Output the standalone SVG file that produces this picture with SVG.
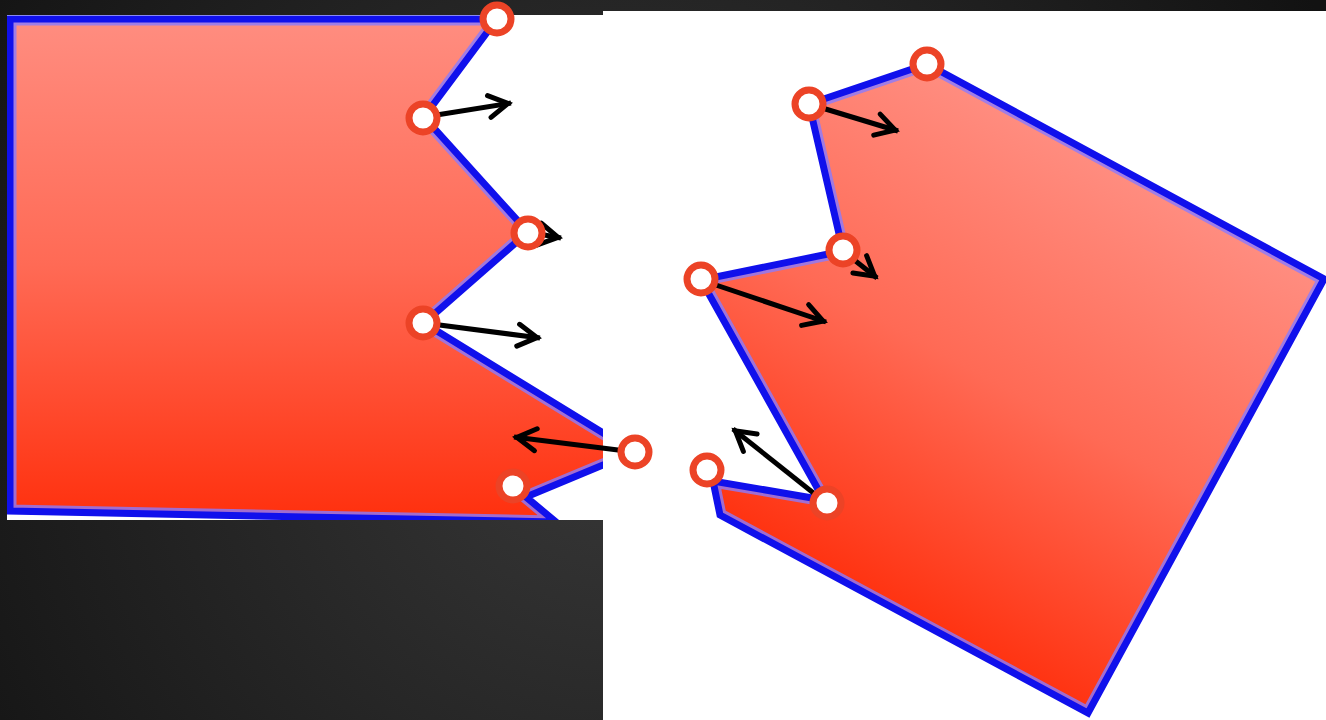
<svg xmlns="http://www.w3.org/2000/svg" width="1326" height="720" viewBox="0 0 1326 720">
  <defs>
    <radialGradient id="bg" gradientUnits="userSpaceOnUse" cx="620" cy="400" r="800">
      <stop offset="0" stop-color="#393939"/>
      <stop offset="1" stop-color="#121212"/>
    </radialGradient>
    <linearGradient id="fillL" gradientUnits="userSpaceOnUse" x1="0" y1="19" x2="0" y2="511">
      <stop offset="0" stop-color="#ff8d80"/>
      <stop offset="0.5" stop-color="#ff6a55"/>
      <stop offset="1" stop-color="#ff3210"/>
    </linearGradient>
    <linearGradient id="fillR" gradientUnits="userSpaceOnUse" x1="1126" y1="171" x2="888" y2="607">
      <stop offset="0" stop-color="#ff8d80"/>
      <stop offset="0.5" stop-color="#ff6a55"/>
      <stop offset="1" stop-color="#ff3210"/>
    </linearGradient>
    <clipPath id="panelL"><rect x="7" y="15" width="596" height="505"/></clipPath>
    <clipPath id="insideL"><polygon points="10,19 497,19 424,117 528,232 424,323 634,452 526,497 556,522 10,511"/></clipPath>
    <clipPath id="insideR"><polygon points="927,64 1324,279 1088,713 720,515 713,481 824,500 701,280 843,251 809,104"/></clipPath>
    <marker id="ah" viewBox="0 0 32 28" refX="26" refY="14" markerWidth="32" markerHeight="28" markerUnits="userSpaceOnUse" orient="auto" overflow="visible">
      <path d="M4,3 L23,14 L4,25" fill="none" stroke="#000" stroke-width="5" stroke-linecap="round" stroke-linejoin="miter"/>
    </marker>
    <style>
      .edge { fill: none; stroke: #1010ec; stroke-width: 7; stroke-linejoin: miter; }
      .hl { fill: none; stroke: #8a7aff; stroke-opacity: 0.8; stroke-width: 13; stroke-linejoin: miter; }
      .arrow { fill: none; stroke: #000; stroke-width: 5; marker-end: url(#ah); }
      .pt { fill: #ffffff; stroke: #ec4326; stroke-width: 7; }
    </style>
  </defs>

  <rect x="0" y="0" width="1326" height="720" fill="url(#bg)"/>
  <rect x="7" y="15" width="596" height="505" fill="#ffffff"/>
  <rect x="603" y="11" width="723" height="709" fill="#ffffff"/>

  <g id="shape-left" clip-path="url(#panelL)">
    <polygon points="10,19 497,19 424,117 528,232 424,323 634,452 526,497 556,522 10,511" fill="url(#fillL)"/>
    <polygon class="hl" clip-path="url(#insideL)" points="10,19 497,19 424,117 528,232 424,323 634,452 526,497 556,522 10,511"/>
    <polygon class="edge" points="10,19 497,19 424,117 528,232 424,323 634,452 526,497 556,522 10,511"/>
  </g>

  <g id="shape-right">
    <polygon points="927,64 1324,279 1088,713 720,515 713,481 824,500 701,280 843,251 809,104" fill="url(#fillR)"/>
    <polygon class="hl" clip-path="url(#insideR)" points="927,64 1324,279 1088,713 720,515 713,481 824,500 701,280 843,251 809,104"/>
    <polygon class="edge" points="927,64 1324,279 1088,713 720,515 713,481 824,500 701,280 843,251 809,104"/>
  </g>

  <g id="connectors">
    <line class="arrow" x1="424" y1="117" x2="511" y2="103"/>
    <line class="arrow" x1="528" y1="232" x2="561" y2="238"/>
    <line class="arrow" x1="424" y1="323" x2="540" y2="338"/>
    <line class="arrow" x1="634" y1="452" x2="514" y2="437"/>
    <line class="arrow" x1="809" y1="104" x2="898" y2="131"/>
    <line class="arrow" x1="843" y1="251" x2="877" y2="278"/>
    <line class="arrow" x1="701" y1="280" x2="826" y2="322"/>
    <line class="arrow" x1="826" y1="503" x2="733" y2="429"/>
  </g>

  <g id="points-left">
    <circle id="pL1" class="pt" cx="497" cy="19" r="14"/>
    <circle id="pL2" class="pt" cx="423" cy="118" r="14"/>
    <circle id="pL3" class="pt" cx="528" cy="233" r="14"/>
    <circle id="pL4" class="pt" cx="423" cy="323" r="14"/>
    <circle id="pL5" class="pt" cx="635" cy="452" r="14"/>
    <circle id="pL6" class="pt" cx="513" cy="486" r="14"/>
  </g>
  <g id="points-right">
    <circle id="pR1" class="pt" cx="927" cy="64" r="14"/>
    <circle id="pR2" class="pt" cx="809" cy="104" r="14"/>
    <circle id="pR3" class="pt" cx="843" cy="250" r="14"/>
    <circle id="pR4" class="pt" cx="701" cy="279" r="14"/>
    <circle id="pR5" class="pt" cx="707" cy="470" r="14"/>
    <circle id="pR6" class="pt" cx="827" cy="503" r="14"/>
  </g>
</svg>
